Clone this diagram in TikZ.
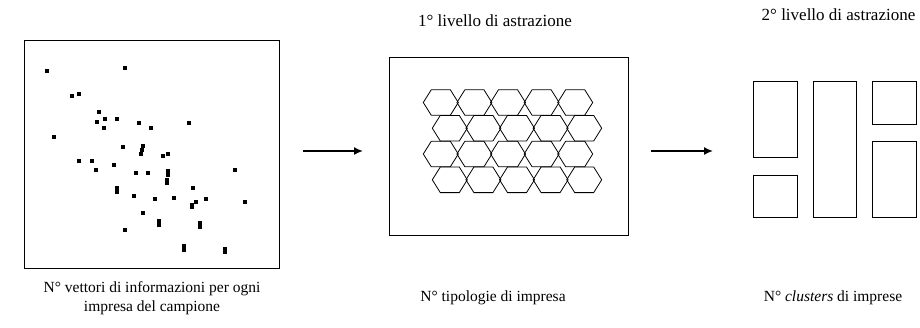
\documentclass[tikz,border=0pt]{standalone}
\usepackage{fontspec}
\setmainfont{Liberation Serif}
\usepackage{tikz}
\usetikzlibrary{arrows.meta}

\tikzset{
  lab/.style={font=\fontsize{17}{19}\selectfont,inner sep=0pt},
  didasc/.style={font=\fontsize{15.5}{19}\selectfont,inner sep=0pt,align=center},
  freccia/.style={line width=1.6pt,-{Latex[length=9pt,width=8pt]}}
}

\begin{document}
\begin{tikzpicture}[x=1pt,y=-1pt,line width=0.9pt]
    \useasboundingbox (0,0) rectangle (920,327);
    % campione
    \draw (24,40) rectangle (279,268);
    \foreach \p in {(46.7,71),(125,68.3),(72,96),(79.3,94),(99.3,112),(97,122),(105,119),
        (104,128),(117.3,119),(139.3,123),(150.7,128),(188.7,123),(54,137),(122.7,147),
        (142.7,146),(142,150),(141.3,154),(163.3,156),(168.3,154),(79.3,161),(92,161),
        (96,170),(114,165),(136.3,173),(148,173),(168.3,170.7),(168,175),(167.3,180),
        (167,183),(235.3,170),(117.3,188),(117.3,192),(193.3,188),(134,196),(155.3,199),
        (174.3,198),(206.3,199),(196,202),(192.3,205),(192.3,207),(245.3,202),(142.7,213),
        (159.3,221),(159.3,225),(199.7,223),(199.7,227),(125,230),(184.3,246),(184.3,250),
        (225.3,249),(225.3,252)}
      \fill \p ++(-2.1,-2.1) rectangle ++(4.2,4.2);
    \node[didasc] (c1) at (152,298) {N° vettori di informazioni per ogni\\impresa del campione};

    \coordinate (a1) at (303,151);
    \coordinate (a2) at (363,151);
    \draw[freccia] (a1) -- (a2);

    % tipologie
    \node[lab] (t1) at (495,21) {1° livello di astrazione};
    \draw (389,57) rectangle (628,235);
    \foreach \r/\y/\x in {0/102.5/440.8,1/128.2/449.8,2/154/440.8,3/179.8/449.8}
      \foreach \c in {0,...,4}
        \draw[line width=0.8pt] ({\x+33.6*\c-17.5},\y) -- ++(8,-12.8) -- ++(19,0) -- ++(8,12.8)
          -- ++(-8,12.8) -- ++(-19,0) -- cycle;
    \node[didasc] (c2) at (493,298) {N° tipologie di impresa};

    \coordinate (b1) at (651,151);
    \coordinate (b2) at (713,151);
    \draw[freccia] (b1) -- (b2);

    % clusters
    \node[lab] (t2) at (838.5,15) {2° livello di astrazione};
    \draw (753.7,81.3) rectangle (797,157.3);
    \draw (753.7,175.3) rectangle (797,217.7);
    \draw (813,81.3) rectangle (856.7,217.7);
    \draw (872.7,81.3) rectangle (916.3,124.7);
    \draw (872.7,141.3) rectangle (916.3,217.7);
    \node[didasc] (c3) at (833,298) {N° \textit{clusters} di imprese};
  \end{tikzpicture}
\end{document}
